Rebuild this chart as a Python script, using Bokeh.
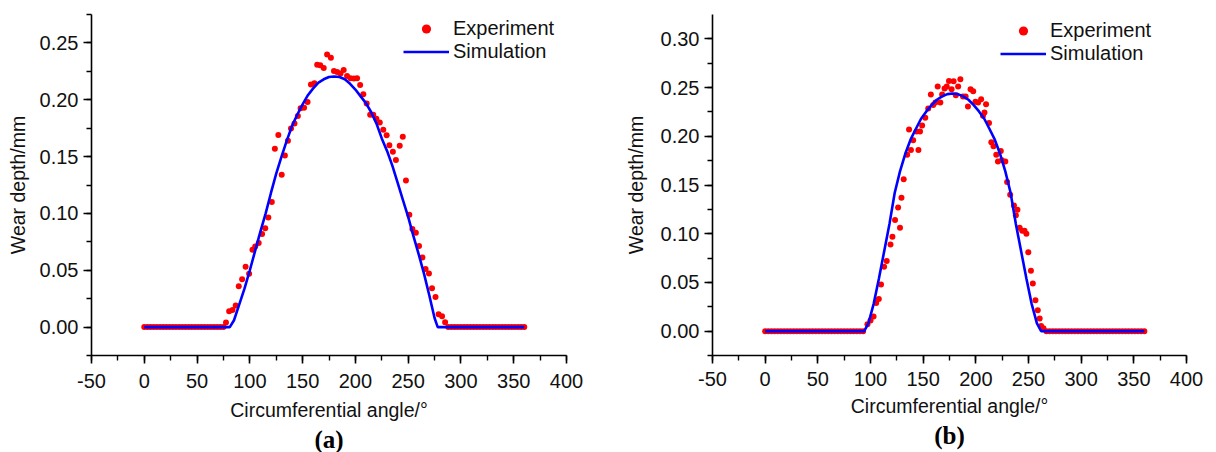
from bokeh.plotting import figure
from bokeh.layouts import row
from bokeh.models import (Range1d, SingleIntervalTicker, NumeralTickFormatter,
                          Legend, LegendItem, Title)
from bokeh.embed import file_html
from bokeh.resources import INLINE

# ---------------- data: panel (a) ----------------
exp_a_angle = [0, 3, 6, 9, 12, 15, 18, 21, 24, 27, 30, 33, 36, 39, 42, 45, 48, 51, 54, 57,
               60, 63, 66, 69, 72, 75,
               77.4, 80.4, 83.6, 86.6, 89.5, 92.7, 96.0, 99.3, 102.5, 105.1, 108.4, 111.6,
               114.6, 117.5, 120.8, 123.7, 127.0, 130.2, 133.2, 136.1, 139.0, 142.3, 145.5,
               148.1, 151.4, 154.7, 157.9, 161.2, 163.8, 166.7, 170.0, 173.2, 176.8, 179.7,
               182.7, 185.9, 188.9, 192.1, 195.4, 198.7, 201.6, 204.5, 207.5, 210.7, 214.0,
               216.9, 219.9, 223.1, 226.4, 229.6, 232.2, 235.5, 238.4, 242.0, 244.9, 247.9,
               251.1, 254.0, 257.3, 260.3, 263.5, 266.5, 269.7, 272.6, 275.9, 278.8, 282.1,
               285.0,
               288, 291, 294, 297, 300, 303, 306, 309, 312, 315, 318, 321, 324, 327, 330,
               333, 336, 339, 342, 345, 348, 351, 354, 357, 360]
exp_a_depth = [0, 0, 0, 0, 0, 0, 0, 0, 0, 0, 0, 0, 0, 0, 0, 0, 0, 0, 0, 0,
               0, 0, 0, 0, 0, 0,
               0.004, 0.014, 0.015, 0.019, 0.036, 0.042, 0.053, 0.047, 0.068, 0.071, 0.074, 0.082,
               0.087, 0.0965, 0.110, 0.157, 0.169, 0.134, 0.151, 0.164, 0.1746, 0.179, 0.1857,
               0.1926, 0.193, 0.198, 0.2135, 0.2146, 0.2309, 0.2303, 0.228, 0.2399, 0.237, 0.2254,
               0.2245, 0.223, 0.2262, 0.221, 0.219, 0.2187, 0.219, 0.2129, 0.2048, 0.1967, 0.1868,
               0.1868, 0.1833, 0.1799, 0.1735, 0.1688, 0.160, 0.1543, 0.147, 0.1596, 0.1674, 0.129,
               0.0988, 0.0864, 0.0829, 0.0713, 0.0612, 0.051, 0.0472, 0.0342, 0.0264, 0.0113, 0.0096,
               0.0043,
               0, 0, 0, 0, 0, 0, 0, 0, 0, 0, 0, 0, 0, 0, 0,
               0, 0, 0, 0, 0, 0, 0, 0, 0, 0]

sim_a_angle = [0, 20, 40, 60, 81, 85, 90, 95, 100, 105, 110, 115, 120, 125, 130, 135, 140,
               145, 150, 155, 160, 165, 170, 175, 180, 185, 190, 195, 200, 205, 210, 215, 220,
               225, 230, 235, 240, 245, 250, 255, 260, 265, 270, 275, 278, 300, 330, 360]
sim_a_depth = [0, 0, 0, 0, 0, 0.006, 0.020, 0.034, 0.050, 0.067, 0.084, 0.100, 0.118, 0.135,
               0.150, 0.164, 0.177, 0.187, 0.196, 0.204, 0.210, 0.215, 0.218, 0.220, 0.2205,
               0.2200, 0.218, 0.214, 0.209, 0.203, 0.197, 0.189, 0.179, 0.166, 0.155, 0.142,
               0.127, 0.112, 0.097, 0.080, 0.064, 0.047, 0.028, 0.008, 0, 0, 0, 0]

# ---------------- data: panel (b) ----------------
exp_b_angle = [0, 3, 6, 9, 12, 15, 18, 21, 24, 27, 30, 33, 36, 39, 42, 45, 48, 51, 54, 57,
               60, 63, 66, 69, 72, 75, 78, 81, 84, 87, 90, 93,
               97.1, 100.0, 102.9, 105.4, 107.9, 110.0, 112.9, 115.4, 119.0, 120.8, 123.3, 126.2,
               128.0, 129.4, 131.5, 134.8, 136.6, 138.4, 140.5, 143.7, 145.5, 147.0, 149.0, 152.0,
               154.8, 157.3, 159.5, 161.6, 163.8, 166.3, 168.0, 170.3, 172.4, 174.5, 177.0, 178.9,
               181.0, 183.2, 185.3, 187.8, 190.3, 192.5, 195.0, 197.5, 199.6, 202.2, 205.0, 206.8,
               208.2, 209.7, 212.5, 214.7, 216.8, 219.4, 221.0, 223.7, 224.7, 228.0, 229.7, 232.6,
               236.2, 238.0, 239.5, 241.6, 244.0, 246.2, 248.0, 249.8, 252.3, 254.1, 256.6, 258.8,
               260.6, 262.0, 264.2,
               267, 270, 273, 276, 279, 282, 285, 288, 291, 294, 297, 300, 303, 306, 309, 312,
               315, 318, 321, 324, 327, 330, 333, 336, 339, 342, 345, 348, 351, 354, 357, 360]
exp_b_depth = [0, 0, 0, 0, 0, 0, 0, 0, 0, 0, 0, 0, 0, 0, 0, 0, 0, 0, 0, 0,
               0, 0, 0, 0, 0, 0, 0, 0, 0, 0, 0, 0,
               0.007, 0.011, 0.015, 0.029, 0.033, 0.048, 0.066, 0.072, 0.089, 0.097, 0.114, 0.127,
               0.106, 0.137, 0.156, 0.181, 0.207, 0.186, 0.196, 0.205, 0.186, 0.205, 0.211, 0.219,
               0.2286, 0.243, 0.232, 0.2347, 0.251, 0.2347, 0.243, 0.249, 0.251, 0.2568, 0.2484, 0.2565,
               0.242, 0.251, 0.2585, 0.2408, 0.2408, 0.2306, 0.2483, 0.2463, 0.2354, 0.2347, 0.238, 0.221,
               0.2245, 0.233, 0.2136, 0.1939, 0.1898, 0.181, 0.174, 0.185, 0.1755, 0.174, 0.153, 0.140,
               0.129, 0.119, 0.1245, 0.106, 0.103, 0.103, 0.100, 0.081, 0.062, 0.049, 0.0316, 0.0214,
               0.013, 0.0054, 0.003,
               0, 0, 0, 0, 0, 0, 0, 0, 0, 0, 0, 0, 0, 0, 0, 0,
               0, 0, 0, 0, 0, 0, 0, 0, 0, 0, 0, 0, 0, 0, 0, 0]

sim_b_angle = [0, 30, 60, 94, 98, 103, 108, 113, 118, 123, 128, 133, 138, 143, 148, 153, 158,
               163, 168, 173, 178, 183, 188, 193, 198, 203, 208, 213, 218, 223, 228, 233, 238,
               243, 248, 253, 258, 262, 300, 330, 360]
sim_b_depth = [0, 0, 0, 0, 0.008, 0.028, 0.054, 0.082, 0.110, 0.142, 0.164, 0.182, 0.1965,
               0.2075, 0.218, 0.2255, 0.232, 0.2375, 0.241, 0.2433, 0.244, 0.2433, 0.241, 0.2375,
               0.232, 0.2255, 0.218, 0.2075, 0.1965, 0.182, 0.164, 0.142, 0.110, 0.082, 0.054,
               0.028, 0.008, 0, 0, 0, 0]

x_label = "Circumferential angle/°"
y_label = "Wear depth/mm"
panel_tags = ["(a)", "(b)"]
FONT = "Liberation Sans"


def panel(exp_x, exp_y, sim_x, sim_y, ymax, tag, borders, legend_loc, ylab_standoff,
          xstand):
    bl, br, bt, bb = borders
    p = figure(width=604, height=452, x_range=Range1d(-50, 400), y_range=Range1d(-0.025, ymax),
               output_backend="svg", toolbar_location=None,
               min_border_left=bl, min_border_right=br, min_border_top=bt, min_border_bottom=bb)
    p.outline_line_color = None
    p.xgrid.visible = False
    p.ygrid.visible = False
    p.background_fill_color = "white"
    p.border_fill_color = "white"

    sc = p.scatter(exp_x, exp_y, size=6, color="#ff0000", line_color=None)
    ln = p.line(sim_x, sim_y, line_color="#0000ff", line_width=2.6)

    p.xaxis.ticker = SingleIntervalTicker(interval=50, num_minor_ticks=2)
    p.yaxis.ticker = SingleIntervalTicker(interval=0.05, num_minor_ticks=2)
    p.xaxis.formatter = NumeralTickFormatter(format="0")
    p.yaxis.formatter = NumeralTickFormatter(format="0.00")
    for ax in (p.xaxis[0], p.yaxis[0]):
        ax.axis_line_width = 1.6
        ax.axis_line_color = "black"
        ax.major_tick_line_color = "black"
        ax.minor_tick_line_color = "black"
        ax.major_tick_line_width = 1.6
        ax.minor_tick_line_width = 1.4
        ax.major_tick_out = 8
        ax.major_tick_in = 0
        ax.minor_tick_out = 5
        ax.minor_tick_in = 0
        ax.major_label_text_font = FONT
        ax.major_label_text_font_size = "20px"
        ax.major_label_text_color = "#111111"
        ax.axis_label_text_font = FONT
        ax.axis_label_text_font_size = "19.5px"
        ax.axis_label_text_font_style = "normal"
        ax.axis_label_text_color = "#111111"
    p.xaxis.axis_label = x_label
    p.yaxis.axis_label = y_label
    p.xaxis.major_label_standoff = xstand[0]
    p.xaxis.axis_label_standoff = xstand[1]
    p.yaxis.major_label_standoff = 5
    p.yaxis.axis_label_standoff = ylab_standoff

    p.add_layout(Title(text=tag, align="center", text_font="Liberation Serif",
                       text_font_size="25px", text_font_style="bold", text_color="black",
                       standoff=0), "below")

    legend = Legend(items=[LegendItem(label="Experiment", renderers=[sc]),
                           LegendItem(label="Simulation", renderers=[ln])],
                    location=legend_loc, border_line_color=None, background_fill_alpha=0,
                    glyph_width=46, glyph_height=23, label_height=23, label_standoff=4,
                    spacing=0, padding=0, margin=0,
                    label_text_font=FONT, label_text_font_size="20px",
                    label_text_color="#111111")
    p.add_layout(legend)
    return p


pa = panel(exp_a_angle, exp_a_depth, sim_a_angle, sim_a_depth, 0.275, panel_tags[0],
           (91, 38, 12, 96), (312, 292), 8, (10, 8))
pb = panel(exp_b_angle, exp_b_depth, sim_b_angle, sim_b_depth, 0.325, panel_tags[1],
           (108, 22, 14, 93), (288, 290), 11, (8, 6))

layout = row(pa, pb)
open("out.html", "w").write(file_html(layout, INLINE))
